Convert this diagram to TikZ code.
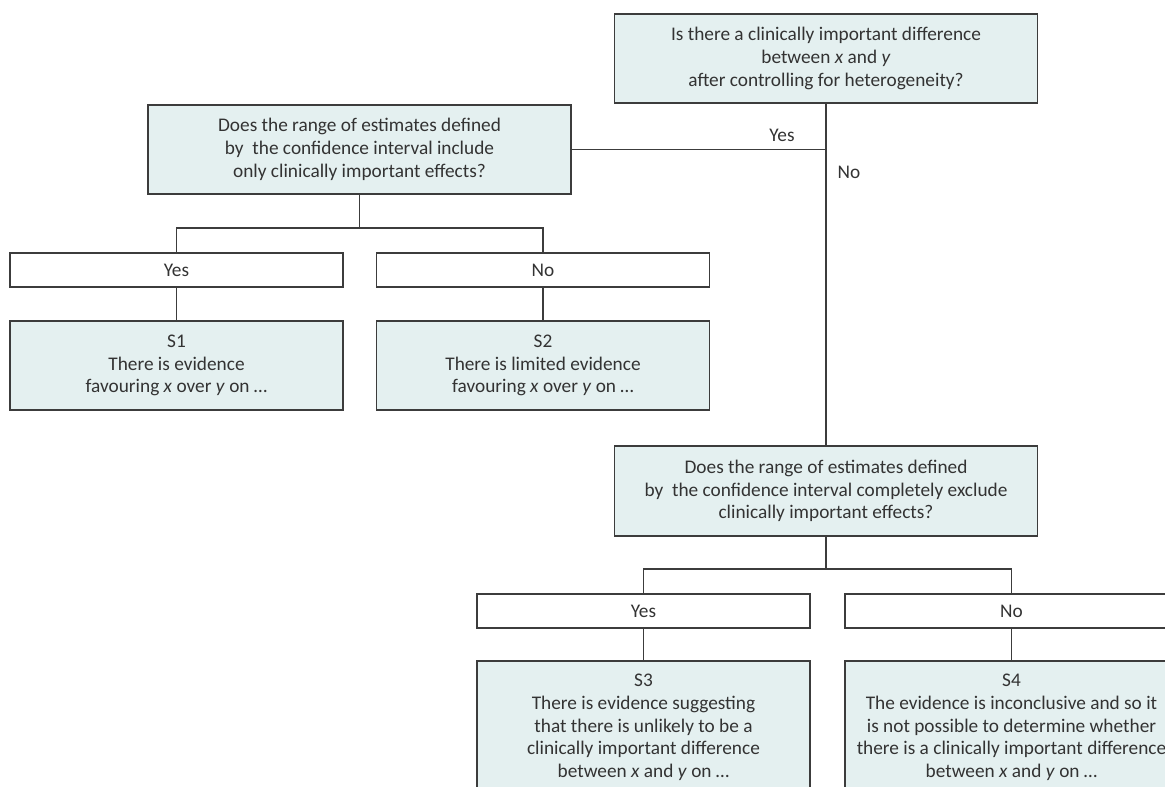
\documentclass[tikz,border=0pt]{standalone}
\usepackage{fontspec}
\setmainfont{Carlito}
\definecolor{boxfill}{HTML}{E4F0F0}
\definecolor{ink}{HTML}{333333}
\definecolor{edge}{HTML}{3C3C3C}
\begin{document}
\begin{tikzpicture}[x=1pt,y=-1pt,
  every node/.style={font=\fontsize{19.3}{22.7}\selectfont, text=ink},
  qbox/.style={draw=edge, line width=1.3pt, fill=boxfill, align=center,
    minimum width=423pt, minimum height=89pt, inner sep=0pt},
  sbox/.style={draw=edge, line width=1.3pt, fill=boxfill, align=center,
    minimum width=333pt, minimum height=89pt, inner sep=0pt},
  abox/.style={draw=edge, line width=1.3pt, fill=white, align=center,
    minimum width=333pt, minimum height=34pt, inner sep=0pt},
  link/.style={draw=edge, line width=1.3pt},
  lbl/.style={inner sep=0pt}]
\useasboundingbox (0,0) rectangle (1165,787);
\clip (0,0) rectangle (1165,787);
\fill[white] (0,0) rectangle (1165,787);

% question boxes
\node[qbox] (top) at (826,58.5) {Is there a clinically important difference\\between \textit{x} and \textit{y}\\after controlling for heterogeneity?};
\node[qbox] (q1) at (359.5,149.5) {Does the range of estimates defined\\by\ \ the confidence interval include\\only clinically important effects?};
\node[qbox, minimum height=90pt] (q2) at (826,491) {Does the range of estimates defined\\by\ \ the confidence interval completely exclude\\clinically important effects?};

% answer boxes
\node[abox] (y1) at (176.5,270) {Yes};
\node[abox] (n1) at (543,270) {No};
\node[abox] (y2) at (643.5,611) {Yes};
\node[abox] (n2) at (1011.5,611) {No};

% statement boxes
\node[sbox] (s1) at (176.5,365.5) {S1\\There is evidence\\favouring \textit{x} over \textit{y} on \dots};
\node[sbox] (s2) at (543,365.5) {S2\\There is limited evidence\\favouring \textit{x} over \textit{y} on \dots};
\node[sbox, minimum height=133pt] (s3) at (643.5,727.5) {S3\\There is evidence suggesting\\that there is unlikely to be a\\clinically important difference\\between \textit{x} and \textit{y} on \dots};
\node[sbox, minimum height=133pt] (s4) at (1011.5,727.5) {S4\\The evidence is inconclusive and so it\\is not possible to determine whether\\there is a clinically important difference\\between \textit{x} and \textit{y} on \dots};

% connectors
\coordinate (j0) at (top.south |- q1.east);
\draw[link] (top.south) -- (q2.north);
\draw[link] (q1.east) -- (j0);
\node[lbl] (yes0) at (782,135) {Yes};
\node[lbl] (no0) at (849,172) {No};

\coordinate (b1) at (359.5,228);
\draw[link] (q1.south) -- (b1);
\draw[link] (y1.north) |- (b1) -| (n1.north);
\draw[link] (y1.south) -- (s1.north);
\draw[link] (n1.south) -- (s2.north);

\coordinate (b2) at (826,569);
\draw[link] (q2.south) -- (b2);
\draw[link] (y2.north) |- (b2) -| (n2.north);
\draw[link] (y2.south) -- (s3.north);
\draw[link] (n2.south) -- (s4.north);
\end{tikzpicture}
\end{document}
